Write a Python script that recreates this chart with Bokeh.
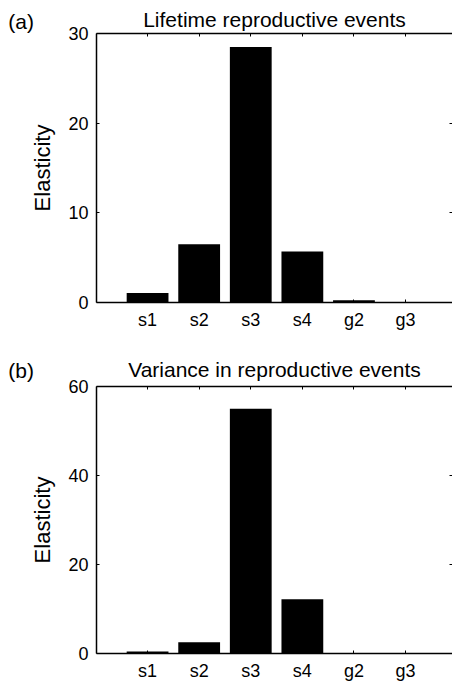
from bokeh.plotting import figure
from bokeh.models import Range1d, LinearAxis, FixedTicker, Label
from bokeh.layouts import column
from bokeh.embed import file_html
from bokeh.resources import INLINE

categories = ["s1", "s2", "s3", "s4", "g2", "g3"]
lifetime_values = [1.05, 6.5, 28.5, 5.7, 0.25, 0.02]
variance_values = [0.45, 2.55, 55.0, 12.2, 0.12, 0.05]
y_ticks_a = [0, 10, 20, 30]
y_ticks_b = [0, 20, 40, 60]

FONT = "Liberation Sans"
X_START = 0.01
X_END = 6.91


def style_axis(ax, labels=True, standoff=8):
    ax.axis_line_width = 1.5
    ax.axis_line_color = "black"
    ax.major_tick_in = 3
    ax.major_tick_out = 0
    ax.major_tick_line_color = "black"
    ax.major_tick_line_width = 1
    ax.minor_tick_line_color = None
    ax.major_label_text_font = FONT
    if labels:
        ax.major_label_text_color = "black"
        ax.major_label_text_font_size = "18px"
        ax.major_label_standoff = standoff
    else:
        # tick marks only: labels are not painted
        ax.major_label_text_color = None
        ax.major_label_text_font_size = "1px"
        ax.major_label_standoff = 0


def panel(letter, title, values, ymax, yticks, height, top, bottom,
          title_standoff, letter_offset):
    xs = list(range(1, len(categories) + 1))
    p = figure(width=452, height=height,
               x_range=Range1d(X_START, X_END), y_range=Range1d(0, ymax),
               output_backend="svg", toolbar_location=None,
               min_border_left=96, min_border_right=0,
               min_border_top=top, min_border_bottom=bottom,
               x_axis_location=None, y_axis_location=None)
    p.outline_line_color = None
    p.xgrid.visible = False
    p.ygrid.visible = False

    p.title.text = title
    p.title.text_font = FONT
    p.title.text_font_size = "21px"
    p.title.text_font_style = "normal"
    p.title.align = "center"
    p.title.text_color = "black"
    p.title.standoff = title_standoff

    p.vbar(x=xs, top=values, width=0.81, bottom=0,
           fill_color="black", line_color=None)

    overrides = {x: c for x, c in zip(xs, categories)}
    bottom_ax = LinearAxis(ticker=FixedTicker(ticks=xs),
                           major_label_overrides=overrides)
    style_axis(bottom_ax, standoff=7)
    p.add_layout(bottom_ax, "below")

    top_ax = LinearAxis(ticker=FixedTicker(ticks=xs))
    style_axis(top_ax, labels=False)
    p.add_layout(top_ax, "above")

    left_ax = LinearAxis(ticker=FixedTicker(ticks=yticks),
                         axis_label="Elasticity")
    style_axis(left_ax, standoff=8)
    left_ax.axis_label_text_font = FONT
    left_ax.axis_label_text_font_size = "22px"
    left_ax.axis_label_text_font_style = "normal"
    left_ax.axis_label_text_color = "black"
    left_ax.axis_label_standoff = 10
    p.add_layout(left_ax, "left")

    right_ax = LinearAxis(ticker=FixedTicker(ticks=yticks))
    style_axis(right_ax, labels=False)
    right_ax.axis_line_color = None
    p.add_layout(right_ax, "right")

    frame_h = height - top - bottom
    # panel letter, placed in the left side panel so it is not clipped
    p.add_layout(Label(x=-1.70, y=ymax * (1 + letter_offset / frame_h),
                       text=letter, text_font=FONT, text_font_size="21px",
                       text_baseline="middle", text_align="left",
                       text_color="black"), "left")
    return p


pa = panel("(a)", "Lifetime reproductive events", lifetime_values, 30,
           y_ticks_a, 340, 33, 38, 6, 11.6)
pb = panel("(b)", "Variance in reproductive events", variance_values, 60,
           y_ticks_b, 343, 46, 29, 11, 16.0)

layout = column(pa, pb, spacing=0)
open("out.html", "w").write(file_html(layout, INLINE))
